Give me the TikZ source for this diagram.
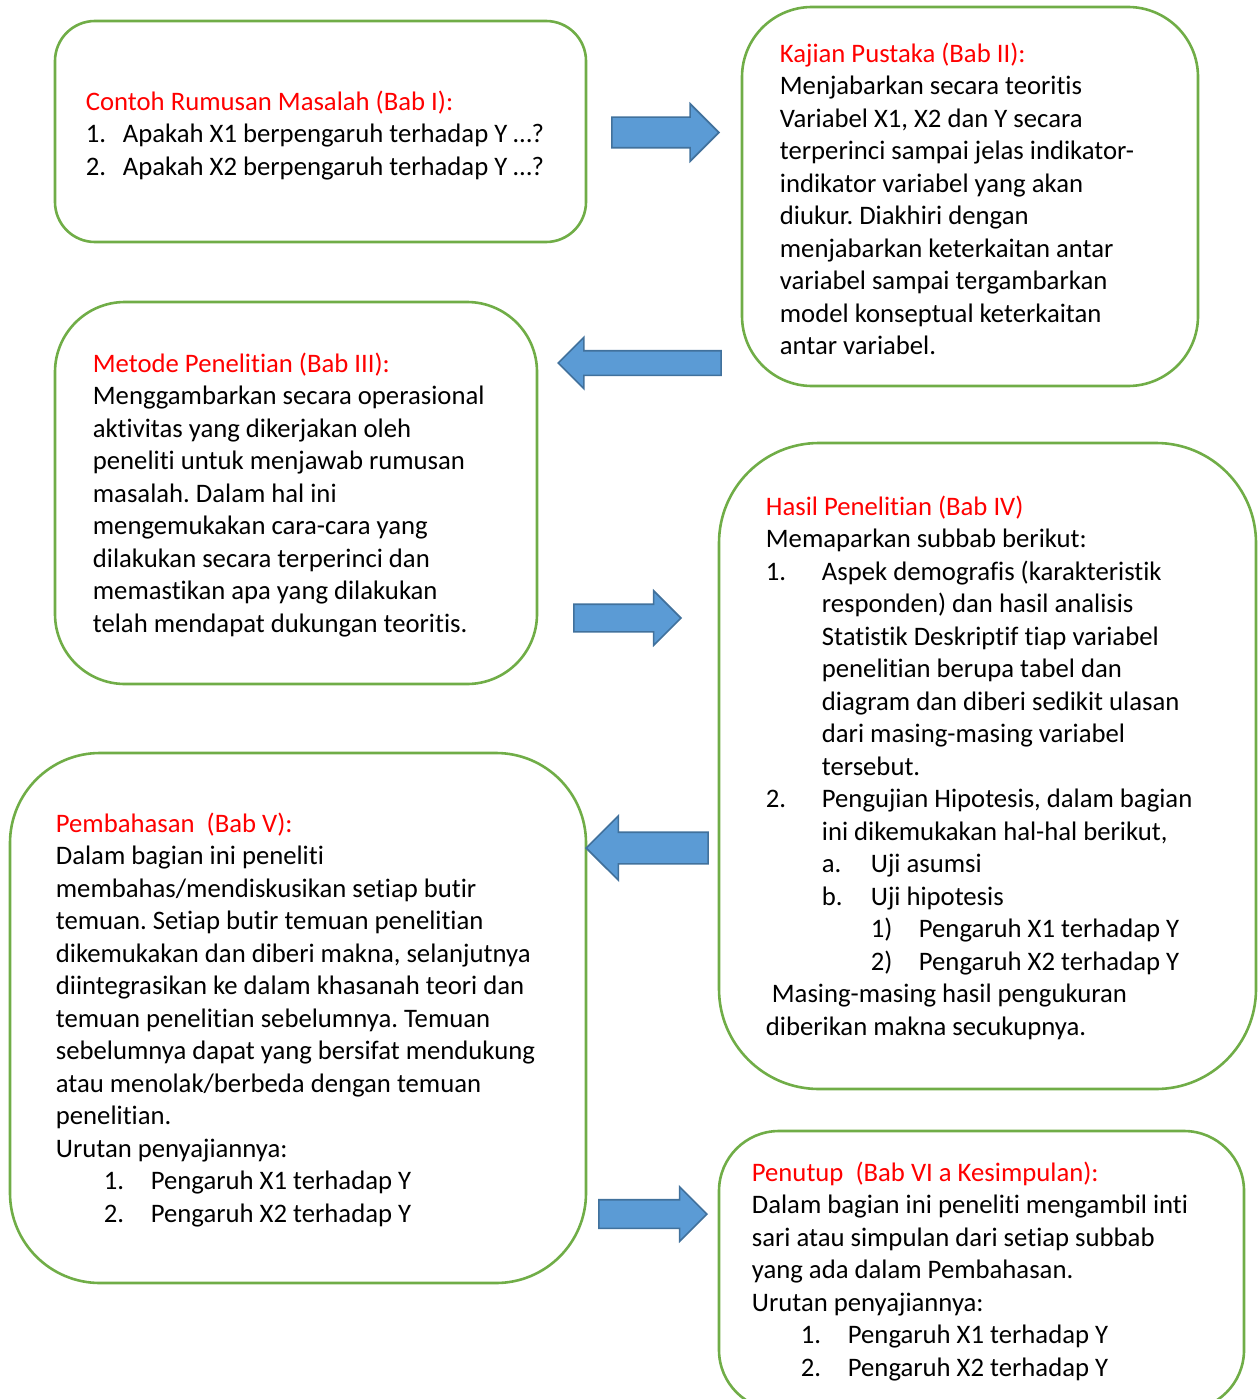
\documentclass[tikz,border=0pt]{standalone}
\usepackage{fontspec}
\setmainfont{Carlito}[Ligatures=NoCommon]
\usetikzlibrary{shapes.arrows}
\definecolor{boxGreen}{HTML}{70AD47}
\definecolor{arrowFill}{HTML}{5B9BD5}
\definecolor{arrowDraw}{HTML}{41719C}
\tikzstyle{chapterBox} = [draw=boxGreen, line width=2.6pt, inner sep=0pt]
\tikzstyle{chapterText} = [anchor=north west, inner sep=0pt, align=left, font=\fontsize{26.7}{32.5}\selectfont]
\tikzstyle{blockArrow} = [single arrow, draw=arrowDraw, fill=arrowFill, line width=1.6pt, minimum width=0pt, inner xsep=0pt, anchor=tip]
\newcommand{\lbl}[2]{\makebox[#1][l]{#2}}
\newcommand{\judul}[1]{\textcolor{red}{#1}}
\frenchspacing

\begin{document}
\begin{tikzpicture}[x=1pt, y=-1pt]
		\useasboundingbox (0,0) rectangle (1258,1399);
		
		% The chapter boxes
		\node (rumusanBox) [chapterBox, rounded corners=40pt, minimum width=531pt, minimum height=221pt] at (320.5,131.5) {};
		\node (kajianBox) [chapterBox, rounded corners=70pt, minimum width=456pt, minimum height=379pt] at (970,196.5) {};
		\node (metodeBox) [chapterBox, rounded corners=70pt, minimum width=482pt, minimum height=382pt] at (296,493) {};
		\node (hasilBox) [chapterBox, rounded corners=100pt, minimum width=537pt, minimum height=646pt] at (987.5,766) {};
		\node (pembahasanBox) [chapterBox, rounded corners=90pt, minimum width=576pt, minimum height=530pt] at (298,1018) {};
		\node (penutupBox) [chapterBox, rounded corners=60pt, minimum width=525pt, minimum height=279pt] at (981.5,1270.5) {};
		
		% Texts inside the boxes
		\path (rumusanBox.north west)+(32,71) node (rumusanText) [chapterText] {\judul{Contoh Rumusan Masalah (Bab I):}\\
			\lbl{37pt}{1.}Apakah X1 berpengaruh terhadap Y …?\\
			\lbl{37pt}{2.}Apakah X2 berpengaruh terhadap Y …?};
		
		\path (kajianBox.north west)+(39,37) node (kajianText) [chapterText] {\judul{Kajian Pustaka (Bab II):}\\
			Menjabarkan secara teoritis\\
			Variabel X1, X2 dan Y secara\\
			terperinci sampai jelas indikator-\\
			indikator variabel yang akan\\
			diukur. Diakhiri dengan\\
			menjabarkan keterkaitan antar\\
			variabel sampai tergambarkan\\
			model konseptual keterkaitan\\
			antar variabel.};
		
		\path (metodeBox.north west)+(39,52) node (metodeText) [chapterText] {\judul{Metode Penelitian (Bab III):}\\
			Menggambarkan secara operasional\\
			aktivitas yang dikerjakan oleh\\
			peneliti untuk menjawab rumusan\\
			masalah. Dalam hal ini\\
			mengemukakan cara-cara yang\\
			dilakukan secara terperinci dan\\
			memastikan apa yang dilakukan\\
			telah mendapat dukungan teoritis.};
		
		\path (hasilBox.north west)+(48,54) node (hasilText) [chapterText] {\judul{Hasil Penelitian (Bab IV)}\\
			Memaparkan subbab berikut:\\
			\lbl{56pt}{1.}Aspek demografis (karakteristik\\
			\hspace*{56pt}responden) dan hasil analisis\\
			\hspace*{56pt}Statistik Deskriptif tiap variabel\\
			\hspace*{56pt}penelitian berupa tabel dan\\
			\hspace*{56pt}diagram dan diberi sedikit ulasan\\
			\hspace*{56pt}dari masing-masing variabel\\
			\hspace*{56pt}tersebut.\\
			\lbl{56pt}{2.}Pengujian Hipotesis, dalam bagian\\
			\hspace*{56pt}ini dikemukakan hal-hal berikut,\\
			\hspace*{56pt}\lbl{49pt}{a.}Uji asumsi\\
			\hspace*{56pt}\lbl{49pt}{b.}Uji hipotesis\\
			\hspace*{105pt}\lbl{48pt}{1)}Pengaruh X1 terhadap Y\\
			\hspace*{105pt}\lbl{48pt}{2)}Pengaruh X2 terhadap Y\\
			\hspace*{6pt}Masing-masing hasil pengukuran\\
			diberikan makna secukupnya.};
		
		\path (pembahasanBox.north west)+(47,61) node (pembahasanText) [chapterText] {\judul{Pembahasan\ \ (Bab V):}\\
			Dalam bagian ini peneliti\\
			membahas/mendiskusikan setiap butir\\
			temuan. Setiap butir temuan penelitian\\
			dikemukakan dan diberi makna, selanjutnya\\
			diintegrasikan ke dalam khasanah teori dan\\
			temuan penelitian sebelumnya. Temuan\\
			sebelumnya dapat yang bersifat mendukung\\
			atau menolak/berbeda dengan temuan\\
			penelitian.\\
			Urutan penyajiannya:\\
			\hspace*{48pt}\lbl{47pt}{1.}Pengaruh X1 terhadap Y\\
			\hspace*{48pt}\lbl{47pt}{2.}Pengaruh X2 terhadap Y};
		
		\path (penutupBox.north west)+(34,32) node (penutupText) [chapterText] {\judul{Penutup\ \ (Bab VI a Kesimpulan):}\\
			Dalam bagian ini peneliti mengambil inti\\
			sari atau simpulan dari setiap subbab\\
			yang ada dalam Pembahasan.\\
			Urutan penyajiannya:\\
			\hspace*{49pt}\lbl{47pt}{1.}Pengaruh X1 terhadap Y\\
			\hspace*{49pt}\lbl{47pt}{2.}Pengaruh X2 terhadap Y};
		
		% Block arrows between the boxes
		\node (rumusanToKajian) [blockArrow, minimum height=107pt, inner ysep=14.5pt, single arrow head extend=13.5pt] at (720,132.5) {};
		\node (kajianToMetode) [blockArrow, shape border rotate=180, minimum height=163pt, inner ysep=11.5pt, single arrow head extend=13.5pt] at (557,363) {};
		\node (metodeToHasil) [blockArrow, minimum height=107pt, inner ysep=13pt, single arrow head extend=13.5pt] at (682,618) {};
		\node (hasilToPembahasan) [blockArrow, shape border rotate=180, minimum height=122pt, inner ysep=15pt, single arrow head extend=16.5pt] at (585,848) {};
		\node (pembahasanToPenutup) [blockArrow, minimum height=108pt, inner ysep=13.5pt, single arrow head extend=13pt] at (708,1214) {};
		
	\end{tikzpicture}
\end{document}
